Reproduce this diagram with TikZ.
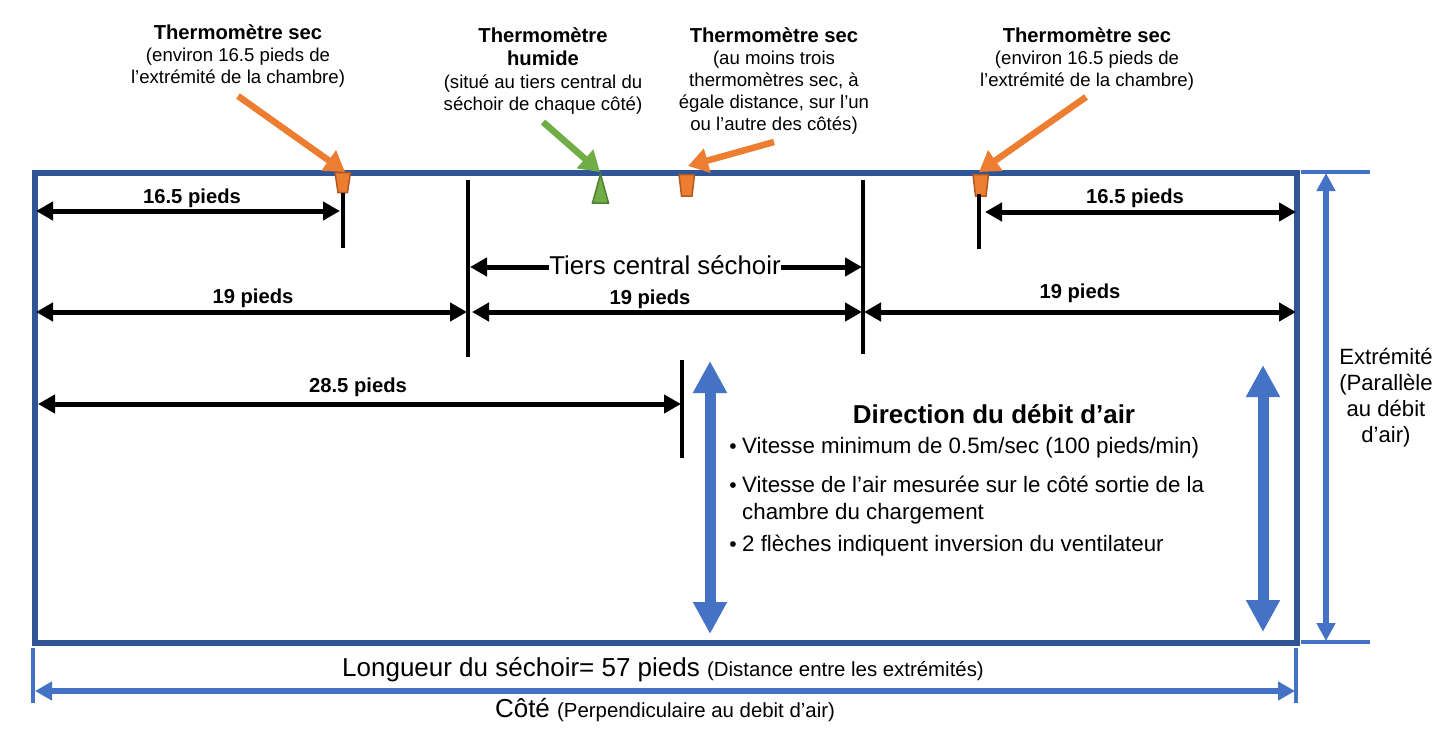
\documentclass[tikz,border=0pt]{standalone}
\usepackage{fontspec}
\setmainfont{Liberation Sans}
\usetikzlibrary{arrows.meta}
\definecolor{frameblue}{HTML}{2F5597}
\definecolor{dimblue}{HTML}{4472C4}
\definecolor{sorange}{HTML}{ED7D31}
\definecolor{sorangeline}{HTML}{AE5A21}
\definecolor{sgreen}{HTML}{70AD47}
\definecolor{sgreenline}{HTML}{507E32}
\tikzset{
 x=1pt,y=-1pt,
 tick/.style={line width=4pt,black},
 dimblack/.style={line width=5pt,black,{Triangle[length=17pt,width=18pt]}-{Triangle[length=17pt,width=18pt]}},
 tiersarrow/.style={line width=5pt,black,-{Triangle[length=17pt,width=18pt]}},
 blueline/.style={line width=3.5pt,dimblue},
 flow/.style={line width=11pt,dimblue,{Triangle[length=32pt,width=32pt]}-{Triangle[length=32pt,width=32pt]}},
 callorange/.style={line width=6.5pt,sorange,-{Triangle[length=20pt,width=24pt]}},
 callgreen/.style={line width=6.5pt,sgreen,-{Triangle[length=20pt,width=24pt]}},
 cup/.style={draw=sorangeline,fill=sorange,line width=1.5pt,line join=miter},
 cone/.style={draw=sgreenline,fill=sgreen,line width=1.5pt},
 head/.style={font=\fontsize{20.2}{23}\selectfont\bfseries,align=center,inner sep=0pt},
 sub/.style={font=\fontsize{18.6}{22}\selectfont,align=center,inner sep=0pt},
 dimtext/.style={font=\fontsize{20.2}{23}\selectfont\bfseries,inner sep=0pt},
 big/.style={font=\fontsize{25.8}{30}\selectfont,inner sep=0pt},
 bul/.style={font=\fontsize{22.3}{27}\selectfont,inner sep=0pt,anchor=north west,align=left},
 buldot/.style={font=\fontsize{21}{24}\selectfont,inner sep=0pt,anchor=center},
}
\begin{document}
\begin{tikzpicture}
\useasboundingbox (0,0) rectangle (1450,733);
% frame
\node[draw=frameblue,line width=6pt,minimum width=1262pt,minimum height=470pt,inner sep=0pt,outer sep=0pt,anchor=north west] (frame) at (35,173) {};
% coordinates
\coordinate (tA1) at (343,193); \coordinate (tA2) at (343,248);
\coordinate (tB1) at (468,180); \coordinate (tB2) at (468,357);
\coordinate (tC1) at (863,180); \coordinate (tC2) at (863,354);
\coordinate (tD1) at (979,194); \coordinate (tD2) at (979,249);
\coordinate (tE1) at (682,360); \coordinate (tE2) at (682,458);
% sensors
\draw[cup] (335,172.5)--(350.5,172.5)--(347.5,192.5)--(338,192.5)--cycle;
\draw[cup] (679,174.5)--(694.5,174.5)--(692,196)--(681.5,196)--cycle;
\draw[cup] (973,174.5)--(988.5,174.5)--(986,196)--(975.5,196)--cycle;
\draw[cone] (600.5,174)--(608.5,203)--(592.5,203)--cycle;
% ticks
\draw[tick] (tA1)--(tA2);
\draw[tick] (tB1)--(tB2);
\draw[tick] (tC1)--(tC2);
\draw[tick] (tD1)--(tD2);
\draw[tick] (tE1)--(tE2);
% black dims
\coordinate (a1) at (36,211); \coordinate (a2) at (340,211);
\draw[dimblack] (a1)--(a2);
\node[dimtext] (t165a) at (192,198) {16.5 pieds};
\coordinate (b1) at (985,212); \coordinate (b2) at (1296,212);
\draw[dimblack] (b1)--(b2);
\node[dimtext] (t165b) at (1135,198) {16.5 pieds};
\coordinate (c1) at (36,312); \coordinate (c2) at (467,312);
\draw[dimblack] (c1)--(c2);
\node[dimtext] (t19a) at (253,298) {19 pieds};
\coordinate (d1) at (472,312); \coordinate (d2) at (862,312);
\draw[dimblack] (d1)--(d2);
\node[dimtext] (t19b) at (650,299) {19 pieds};
\coordinate (e1) at (864,312); \coordinate (e2) at (1296,312);
\draw[dimblack] (e1)--(e2);
\node[dimtext] (t19c) at (1080,293) {19 pieds};
\coordinate (f1) at (38,404); \coordinate (f2) at (681,404);
\draw[dimblack] (f1)--(f2);
\node[dimtext] (t285) at (358,387) {28.5 pieds};
% tiers central
\node[big] (tiers) at (665,265) {Tiers central séchoir};
\coordinate (g1) at (470,267); \coordinate (g2) at (862,267);
\draw[tiersarrow] (tiers.west |- g1)--(g1);
\draw[tiersarrow] (tiers.east |- g2)--(g2);
% callouts
\coordinate (oa) at (238,96); \coordinate (oah) at (345,172);
\draw[callorange] (oa)--(oah);
\coordinate (ga) at (543,122); \coordinate (gah) at (600,172);
\draw[callgreen] (ga)--(gah);
\coordinate (ob) at (774,142); \coordinate (obh) at (688,166);
\draw[callorange] (ob)--(obh);
\coordinate (oc) at (1086,97); \coordinate (och) at (979,172);
\draw[callorange] (oc)--(och);
% labels
\node[head] (h1) at (238,32) {Thermomètre sec};
\node[sub,anchor=north] (p1) at (238,48) {(environ 16.5 pieds de\\l’extrémité de la chambre)};
\node[head] (h2) at (543,46.5) {Thermomètre\\humide};
\node[sub,anchor=north] (p2) at (543,75) {(situé au tiers central du\\séchoir de chaque côté)};
\node[head] (h3) at (774,35) {Thermomètre sec};
\node[sub,anchor=north] (p3) at (774,51) {(au moins trois\\thermomètres sec, à\\égale distance, sur l’un\\ou l’autre des côtés)};
\node[head] (h4) at (1087,35) {Thermomètre sec};
\node[sub,anchor=north] (p4) at (1087,51) {(environ 16.5 pieds de\\l’extrémité de la chambre)};
% flow
\coordinate (fl1t) at (710,361); \coordinate (fl1b) at (710,634);
\draw[flow] (fl1t)--(fl1b);
\coordinate (fl2t) at (1263,365); \coordinate (fl2b) at (1263,632);
\draw[flow] (fl2t)--(fl2b);
\node[font=\fontsize{25.9}{30}\selectfont\bfseries,inner sep=0pt] (dir) at (994,414) {Direction du débit d’air};
\node[buldot] (b1t) at (733,449) {•};
\node[bul] (b1x) at (742,437) {Vitesse minimum de 0.5m/sec (100 pieds/min)};
\node[buldot] (b2t) at (733,488) {•};
\node[bul] (b2x) at (742,476) {Vitesse de l’air mesurée sur le côté sortie de la\\chambre du chargement};
\node[buldot] (b3t) at (733,547) {•};
\node[bul] (b3x) at (742,535) {2 flèches indiquent inversion du ventilateur};
% right dim
\coordinate (r1) at (1301,172); \coordinate (r2) at (1370,172);
\coordinate (r3) at (1301,642); \coordinate (r4) at (1370,642);
\draw[blueline] (r1)--(r2);
\draw[blueline] (r3)--(r4);
\coordinate (r5) at (1326,173); \coordinate (r6) at (1326,641);
\draw[line width=5.5pt,dimblue,{Triangle[length=18pt,width=18pt]}-{Triangle[length=18pt,width=18pt]}] (r5)--(r6);
\node[font=\fontsize{22.1}{26}\selectfont,align=center,inner sep=0pt] (ext) at (1386,398) {Extrémité\\(Parallèle\\au débit\\d’air)};
% bottom dim
\coordinate (u1) at (33,648); \coordinate (u2) at (33,703);
\coordinate (u3) at (1296,648); \coordinate (u4) at (1296,703);
\draw[line width=3.7pt,dimblue] (u1)--(u2);
\draw[line width=3.7pt,dimblue] (u3)--(u4);
\coordinate (u5) at (35,691); \coordinate (u6) at (1295,691);
\draw[line width=5.5pt,dimblue,{Triangle[length=17pt,width=18pt]}-{Triangle[length=17pt,width=18pt]}] (u5)--(u6);
\node[inner sep=0pt] (lon) at (663,670) {\fontsize{26}{30}\selectfont Longueur du séchoir= 57 pieds \fontsize{20.4}{24}\selectfont(Distance entre les extrémités)};
\node[inner sep=0pt] (cote) at (665,710) {\fontsize{26}{30}\selectfont Côté \fontsize{20.4}{24}\selectfont(Perpendiculaire au debit d’air)};
\end{tikzpicture}
\end{document}
